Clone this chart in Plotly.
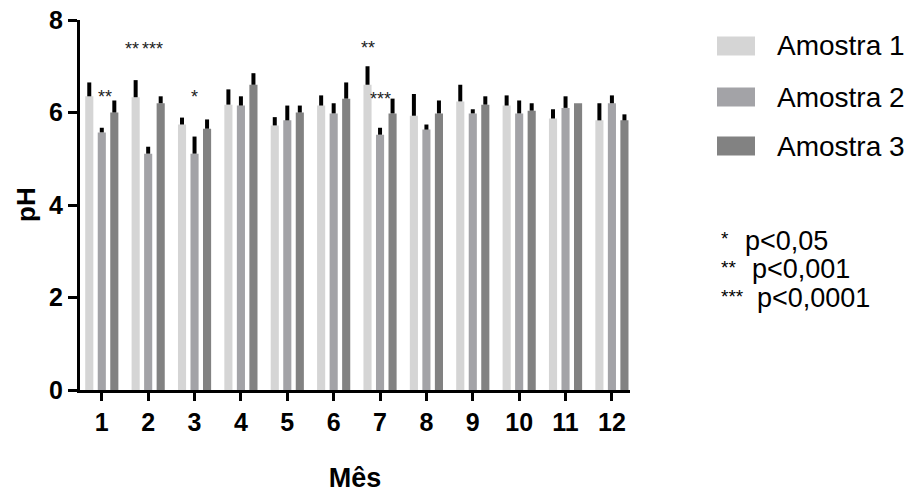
import plotly.graph_objects as go

months = [1, 2, 3, 4, 5, 6, 7, 8, 9, 10, 11, 12]
month_labels = ["1", "2", "3", "4", "5", "6", "7", "8", "9", "10", "11", "12"]

amostra1 = [6.35, 6.33, 5.74, 6.17, 5.72, 6.15, 6.60, 5.93, 6.24, 6.15, 5.87, 5.83]
amostra1_err = [0.30, 0.37, 0.15, 0.33, 0.18, 0.22, 0.40, 0.47, 0.36, 0.22, 0.20, 0.37]
amostra2 = [5.57, 5.11, 5.11, 6.15, 5.83, 5.98, 5.52, 5.63, 5.98, 5.98, 6.10, 6.20]
amostra2_err = [0.10, 0.15, 0.37, 0.20, 0.32, 0.22, 0.15, 0.11, 0.09, 0.28, 0.25, 0.17]
amostra3 = [6.00, 6.20, 5.65, 6.60, 6.00, 6.30, 5.98, 5.98, 6.17, 6.04, 6.20, 5.83]
amostra3_err = [0.26, 0.15, 0.20, 0.25, 0.15, 0.35, 0.32, 0.28, 0.18, 0.16, 0.00, 0.13]

series_names = ["Amostra 1", "Amostra 2", "Amostra 3"]
series_values = [amostra1, amostra2, amostra3]
series_errors = [amostra1_err, amostra2_err, amostra3_err]
colors = ["#d5d5d5", "#a3a3a7", "#828282"]

# significance markers: (x in data units, y in data units, text)
sig_marks = [(1.06, 6.33, "**"), (1.65, 7.38, "**"), (2.10, 7.38, "***"),
             (3.00, 6.33, "*"), (6.73, 7.40, "**"), (7.01, 6.29, "***")]
sig_legend_stars = ["*", "**", "***"]
sig_legend_text = ["p<0,05", "p<0,001", "p<0,0001"]

FONT = "Liberation Sans, Arial, sans-serif"
BAR_W = 0.175
SLOT = 0.27

fig = go.Figure()
for k, (name, vals, errs, col) in enumerate(zip(series_names, series_values, series_errors, colors)):
    fig.add_trace(go.Bar(
        x=months, y=vals, name=name, marker=dict(color=col, line=dict(width=0)),
        width=BAR_W, offset=(k - 1) * SLOT - BAR_W / 2,
        error_y=dict(type="data", array=errs, arrayminus=[0] * len(errs), symmetric=False,
                     color="black", thickness=4, width=0),
        showlegend=False,
    ))

annotations = []
for x, y, t in sig_marks:
    annotations.append(dict(x=x, y=y, xref="x", yref="y", text=t, showarrow=False,
                            font=dict(family=FONT, size=18, color="#222")))

W, H = 916, 498
PL, PR, PT, PB = 80, 630, 20, 390
def px(x):
    return (x - PL) / (PR - PL)
def py(y):
    return (PB - y) / (PB - PT)

# y-axis title
annotations.append(dict(x=px(26), y=py(205), xref="paper", yref="paper", text="<b>pH</b>",
                        textangle=-90, showarrow=False, xanchor="center", yanchor="middle",
                        font=dict(family=FONT, size=26, color="black")))

# custom legend (large swatches)
leg_y = [46, 97, 146]
shapes = []
for i, (name, col) in enumerate(zip(series_names, colors)):
    yc = leg_y[i]
    shapes.append(dict(type="rect", xref="paper", yref="paper",
                       x0=px(717), x1=px(755), y0=py(yc + 9.5), y1=py(yc - 9.5),
                       fillcolor=col, line=dict(width=0)))
    annotations.append(dict(x=px(775), y=py(yc), xref="paper", yref="paper",
                            text=name, showarrow=False, xanchor="left", yanchor="middle",
                            font=dict(family=FONT, size=28, color="black")))

sig_y = [241, 269, 298]
sig_tx = [743, 750, 755]
for i in range(3):
    annotations.append(dict(x=px(719), y=py(sig_y[i] - 2), xref="paper", yref="paper",
                            text=sig_legend_stars[i], showarrow=False, xanchor="left", yanchor="middle",
                            font=dict(family=FONT, size=19, color="black")))
    annotations.append(dict(x=px(sig_tx[i]), y=py(sig_y[i]), xref="paper", yref="paper",
                            text=sig_legend_text[i], showarrow=False, xanchor="left", yanchor="middle",
                            font=dict(family=FONT, size=27, color="black")))

fig.update_layout(
    width=W, height=H,
    margin=dict(l=PL, r=W - PR, t=PT, b=H - PB),
    paper_bgcolor="white", plot_bgcolor="white",
    barmode="overlay",
    font=dict(family=FONT, color="black"),
    annotations=annotations, shapes=shapes,
    xaxis=dict(range=[0.53, 12.39], tickmode="array", tickvals=months, ticktext=month_labels,
               automargin=False,
               showline=True, linewidth=3, linecolor="black", ticks="outside", ticklen=8,
               tickwidth=3, tickcolor="black", showgrid=False, zeroline=False,
               tickfont=dict(family=FONT, size=25, color="black", weight="bold"),
               title=dict(text="Mês", font=dict(family=FONT, size=27, color="black", weight="bold"),
                          standoff=34)),
    yaxis=dict(range=[0, 8], tickvals=[0, 2, 4, 6, 8], automargin=False,
               showline=True, linewidth=3, linecolor="black", ticks="outside", ticklen=9,
               tickwidth=3, tickcolor="black", showgrid=False, zeroline=False,
               tickfont=dict(family=FONT, size=25, color="black", weight="bold")),
)

fig.write_html("out.html", config={"displayModeBar": False},
               post_script="document.body.style.margin='0';document.body.style.overflow='hidden';")
